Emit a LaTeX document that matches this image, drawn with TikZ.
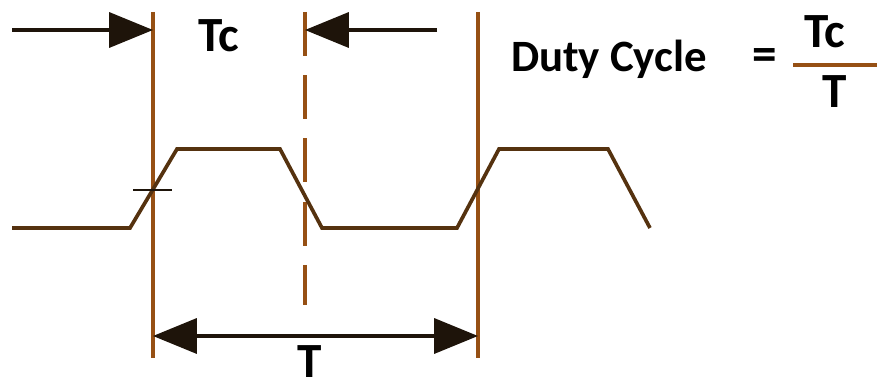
\documentclass[tikz,border=0pt]{standalone}
\usepackage{fontspec}
\setmainfont{Carlito}
\usepackage{tikz}
\usetikzlibrary{arrows.meta}
\definecolor{markcol}{RGB}{150,80,20}
\definecolor{sigcol}{RGB}{85,50,15}
\definecolor{dimcol}{RGB}{30,20,10}

\begin{document}
\begin{tikzpicture}[x=0.02cm, y=-0.02cm,
  marker/.style={markcol, line width=2pt},
  signal/.style={sigcol, line width=2.1pt},
  dimline/.style={dimcol, line width=1.8pt},
  bighead/.tip={Triangle[length=25pt, width=20pt]},
  lbl/.style={font=\fontsize{28}{32}\selectfont\bfseries, inner sep=0pt, anchor=base}]
  \useasboundingbox (0,0) rectangle (877,388);
  % reference lines
  \coordinate (rise1top) at (153,12);
  \coordinate (rise1bot) at (153,358);
  \coordinate (falltop) at (305,12);
  \coordinate (fallbot) at (305,305);
  \coordinate (rise2top) at (478,12);
  \coordinate (rise2bot) at (478,358);
  \draw[marker] (rise1top) -- (rise1bot);
  \draw[marker] (rise2top) -- (rise2bot);
  \draw[marker, dash pattern=on 25pt off 11pt] (falltop) -- (fallbot);
  % the pulse train
  \draw[signal] (12,228) -- (130,228) -- (177,149) -- (280,149) -- (322,228)
    -- (457,228) -- (499,149) -- (608,149) -- (650,228);
  \coordinate (tickl) at (133,190);
  \coordinate (tickr) at (172,190);
  \draw[dimline, line width=1.3pt] (tickl) -- (tickr);
  % Tc arrows
  \coordinate (tcleft) at (12,30);
  \coordinate (tcin1) at (153,30);
  \coordinate (tcright) at (437,30);
  \coordinate (tcin2) at (305,30);
  \draw[dimline, -bighead] (tcleft) -- (tcin1);
  \draw[dimline, -bighead] (tcright) -- (tcin2);
  \node[lbl] (tc) at (219,52) {Tc};
  % period arrow
  \coordinate (pstart) at (153,336);
  \coordinate (pend) at (478,336);
  \draw[dimline, bighead-bighead] (pstart) -- (pend);
  \node[lbl] (per) at (310,378) {T};
  % duty cycle formula
  \node[lbl, font=\fontsize{25.5}{30}\selectfont\bfseries] (duty) at (609,72) {Duty Cycle};
  \node[lbl, anchor=center] (eq) at (765,60) {=};
  \coordinate (fracl) at (793,65);
  \coordinate (fracr) at (877,65);
  \draw[markcol, line width=2pt] (fracl) -- (fracr);
  \node[lbl] (num) at (825,48) {Tc};
  \node[lbl] (den) at (835,108) {T};
\end{tikzpicture}
\end{document}
